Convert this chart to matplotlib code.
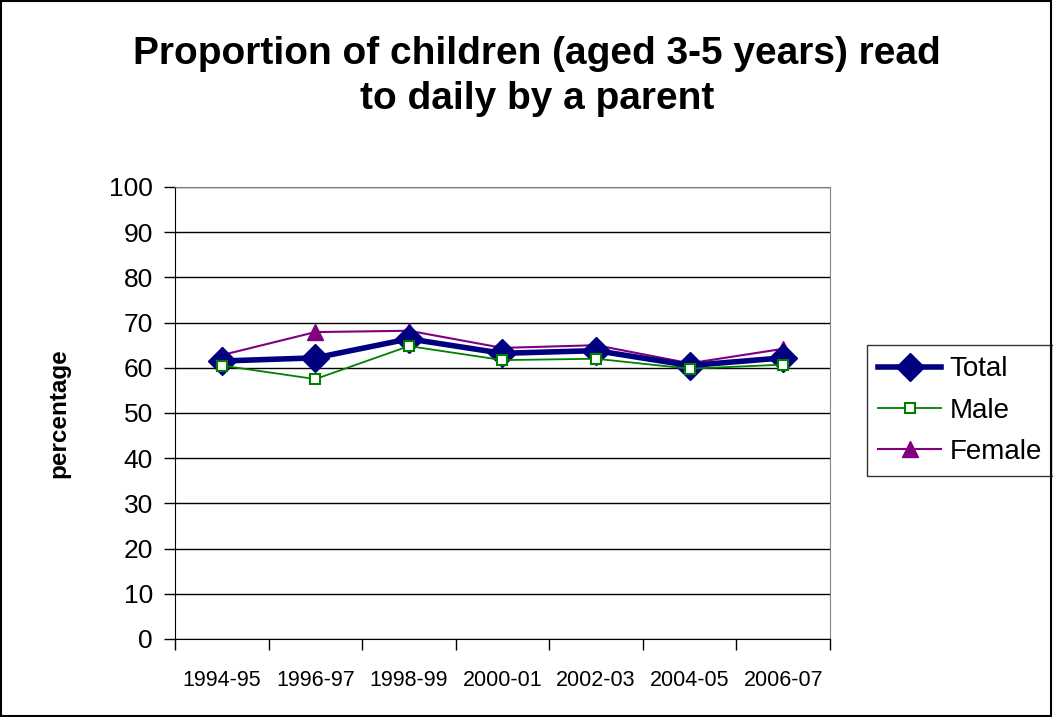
import numpy as np
import matplotlib.pyplot as plt
from matplotlib.patches import Rectangle

plt.rc('font', family=['Liberation Sans', 'DejaVu Sans'])

years = ['1994-95', '1996-97', '1998-99', '2000-01', '2002-03', '2004-05', '2006-07']
total = [61.5, 62.2, 66.4, 63.2, 63.8, 60.5, 62.2]
male = [60.5, 57.5, 64.8, 61.7, 62.0, 59.8, 60.7]
female = [62.8, 67.9, 68.2, 64.4, 65.0, 61.0, 64.2]

fig = plt.figure(figsize=(10.53, 7.17), dpi=100)
ax = fig.add_axes([0.1662, 0.1088, 0.622, 0.6304])

x = np.arange(len(years))
ax.plot(x, total, color='#000080', lw=4, marker='D', ms=14, label='Total', zorder=3)
ax.plot(x, male, color='#008000', lw=1.3, marker='s', ms=7, mfc='white', mew=1.5,
        label='Male', zorder=4)
ax.plot(x, female, color='#800080', lw=1.5, marker='^', ms=11, label='Female', zorder=2)

ax.set_xlim(-0.5, len(years) - 0.5)
ax.set_ylim(0, 100)
ax.set_yticks(np.arange(0, 101, 10))
ax.yaxis.grid(True, color='black', lw=1)
ax.set_axisbelow(True)

# category labels between tick marks, Excel style
ax.set_xticks(np.arange(-0.5, len(years), 1.0))
ax.set_xticklabels([])
ax.set_xticks(x, minor=True)
ax.set_xticklabels(years, minor=True, fontsize=15.5)
ax.tick_params(axis='x', which='major', direction='out', length=8, width=1)
ax.tick_params(axis='x', which='minor', length=0, pad=22)
ax.tick_params(axis='y', direction='out', length=8, width=1, labelsize=19, pad=8)

for s in ['top', 'right']:
    ax.spines[s].set_color('#808080')
for s in ['left', 'bottom']:
    ax.spines[s].set_color('black')

ax.set_ylabel('percentage', fontsize=17.5, fontweight='bold', labelpad=28)
fig.text(0.51, 0.893, 'Proportion of children (aged 3-5 years) read\nto daily by a parent',
         ha='center', va='center', fontsize=28, fontweight='bold', linespacing=1.33)

leg = ax.legend(loc='center left', bbox_to_anchor=(1.057, 0.505), fontsize=20,
                frameon=True, fancybox=False, edgecolor='black', handlelength=2.25,
                handletextpad=0.3, borderpad=0.4, labelspacing=0.55, borderaxespad=0)
leg.get_frame().set_linewidth(1)

fig.patches.append(Rectangle((0.001, 0.001), 0.997, 0.997, transform=fig.transFigure,
                             fill=False, edgecolor='black', lw=1.5))

fig.savefig('out.png', dpi=100)
